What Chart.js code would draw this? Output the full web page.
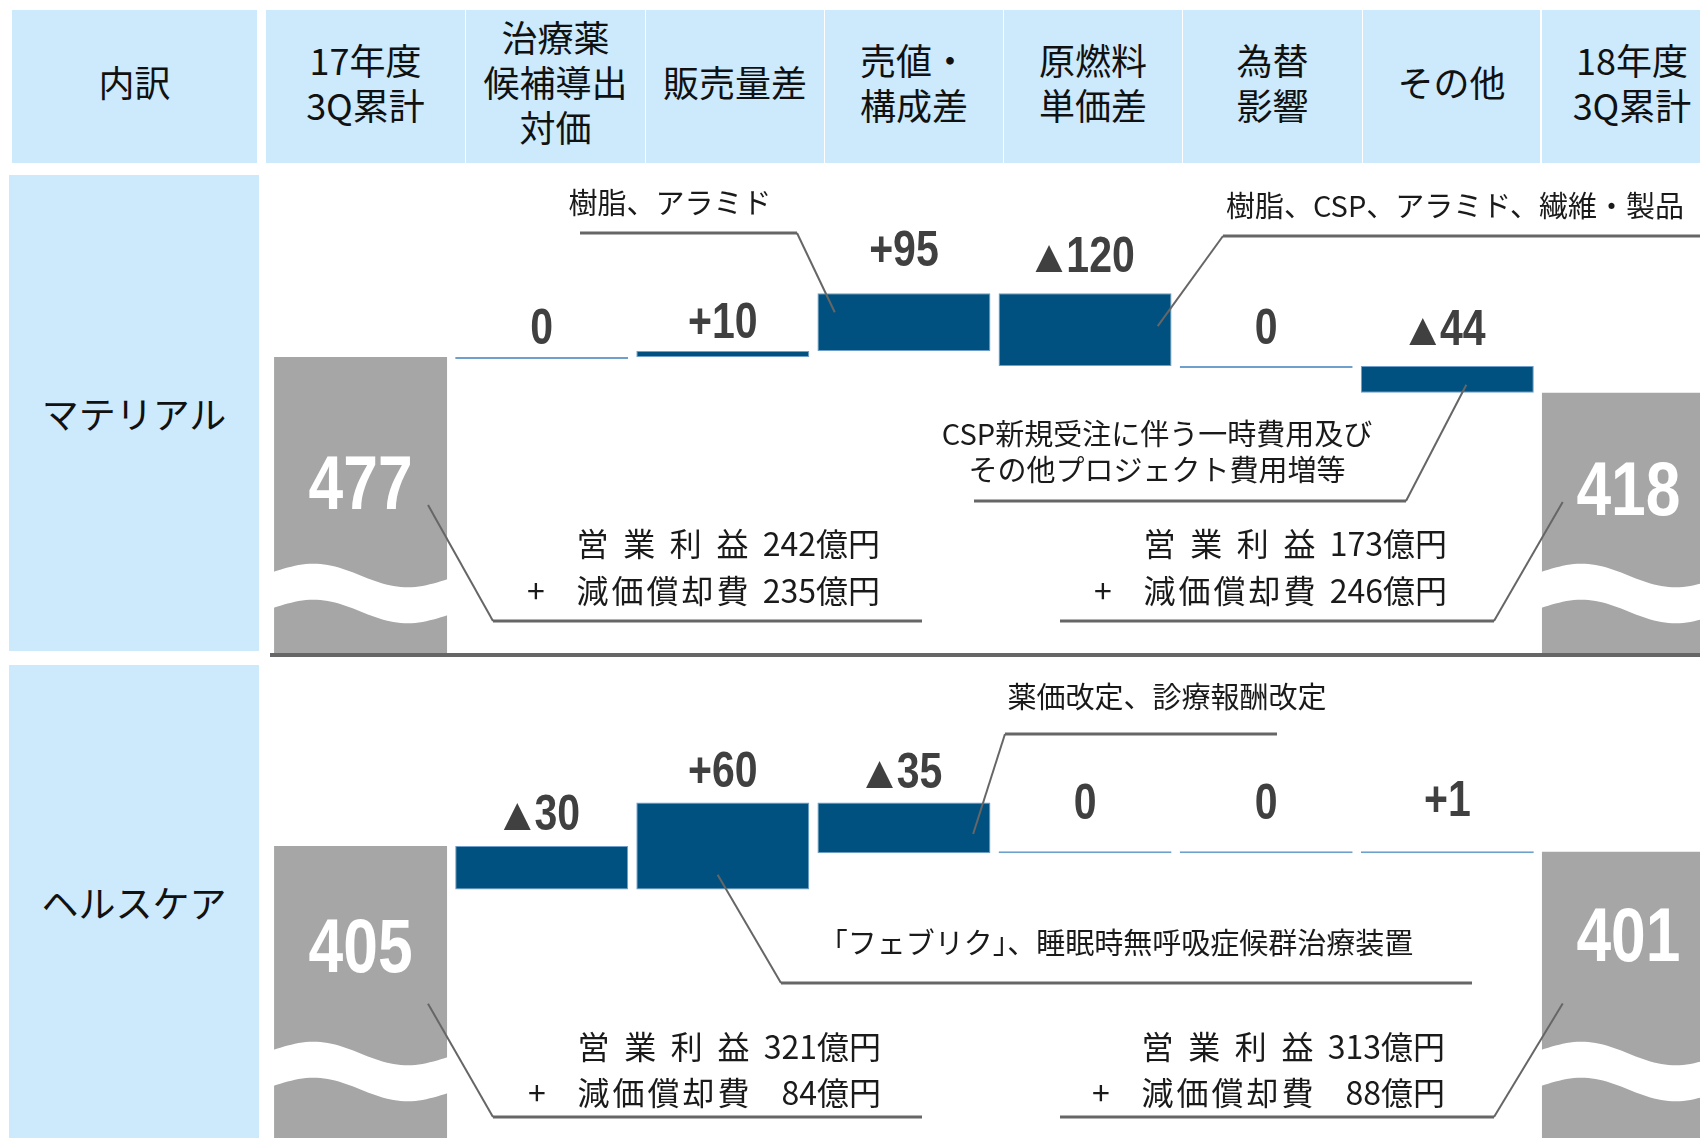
<!DOCTYPE html>
<html lang="ja">
<head>
<meta charset="utf-8">
<title>営業利益＋減価償却費 増減要因</title>
<script src="https://cdn.jsdelivr.net/npm/chart.js@4.4.1/dist/chart.umd.min.js"></script>
<style>
  html, body { margin: 0; padding: 0; background: #fff; }
  body {
    width: 1700px; height: 1138px; overflow: hidden; position: relative;
    font-family: 'Noto Sans CJK JP', 'Noto Sans', sans-serif; color: #111;
  }
  .cell {
    position: absolute; background: #cceafc;
    display: flex; align-items: center; justify-content: center; text-align: center;
    box-sizing: border-box;
  }
  .head { top: 10px; height: 153px; font-size: 36px; line-height: 45px; padding-bottom: 10px; }
  .side { left: 9px; width: 250px; font-size: 37px; }
  canvas { position: absolute; }
  #sep { position: absolute; left: 270px; top: 653px; width: 1430px; height: 4px; background: #666; }
</style>
</head>
<body>
<div id="cells"></div>
<canvas id="matChart" width="1449" height="490" style="left:270px;top:163px;width:1449px;height:490px;"></canvas>
<div id="sep"></div>
<canvas id="hcChart" width="1449" height="480" style="left:270px;top:658px;width:1449px;height:480px;"></canvas>

<script>
// 見出し
const headerLines = [['内訳'], ['17年度', '3Q累計'], ['治療薬', '候補導出', '対価'], ['販売量差'],
  ['売値・', '構成差'], ['原燃料', '単価差'], ['為替', '影響'], ['その他'], ['18年度', '3Q累計']];
const segments = ['マテリアル', 'ヘルスケア'];
const categories = ['17年度3Q累計', '治療薬候補導出対価', '販売量差', '売値・構成差', '原燃料単価差', '為替影響', 'その他', '18年度3Q累計'];

// マテリアル（億円）
const matStart = 477;
const matDeltas = [0, 10, 95, -120, 0, -44];
const matEnd = 418;
const matOperating = [242, 173];
const matDepreciation = [235, 246];

// ヘルスケア（億円）
const hcStart = 405;
const hcDeltas = [-30, 60, -35, 0, 0, 1];
const hcEnd = 401;
const hcOperating = [321, 313];
const hcDepreciation = [84, 88];

// ---- table cells (html) ----
const headEdges = [[12, 257], [266, 465], [466, 645], [646, 824], [825, 1003], [1004, 1182], [1183, 1362], [1363, 1540], [1542, 1722]];
const sideEdges = [[175, 651], [665, 1138]];
const cellsDiv = document.getElementById('cells');
headerLines.forEach((lines, i) => {
  const d = document.createElement('div');
  d.className = 'cell head';
  d.style.left = headEdges[i][0] + 'px';
  d.style.width = (headEdges[i][1] - headEdges[i][0]) + 'px';
  d.innerHTML = lines.join('<br>');
  cellsDiv.appendChild(d);
});
segments.forEach((name, i) => {
  const d = document.createElement('div');
  d.className = 'cell side';
  d.style.top = sideEdges[i][0] + 'px';
  d.style.height = (sideEdges[i][1] - sideEdges[i][0]) + 'px';
  d.textContent = name;
  cellsDiv.appendChild(d);
});

// ---- helpers ----
function buildBars(start, deltas, end, axisMin) {
  const bars = [[axisMin, start]];
  let level = start;
  deltas.forEach(d => {
    bars.push([level, level + d]);
    level += d;
  });
  bars.push([axisMin, end]);
  return bars;
}

function fmt(d) {
  if (d > 0) return '+' + d;
  if (d < 0) return '▲' + (-d);
  return '0';
}

// Arial Narrow風に横方向を詰めて描く
function drawNumber(ctx, text, cx, baseline, size, color) {
  const narrow = 0.82;
  const tri = text.startsWith('▲');
  const digits = tri ? text.slice(1) : text;
  const triSize = Math.round(size * 0.92);
  const numFont = `bold ${size}px 'Liberation Sans', Arial, sans-serif`;
  const triFont = `${triSize}px 'Liberation Sans', 'DejaVu Sans', sans-serif`;
  ctx.save();
  ctx.fillStyle = color;
  ctx.textBaseline = 'alphabetic';
  ctx.textAlign = 'left';
  ctx.font = triFont;
  const tm = ctx.measureText('▲');
  const triW = tri ? tm.actualBoundingBoxLeft + tm.actualBoundingBoxRight + 3 : 0;
  ctx.font = numFont;
  const numW = ctx.measureText(digits).width * narrow;
  let x = cx - (triW + numW) / 2;
  if (tri) {
    ctx.font = triFont;
    ctx.fillText('▲', x + tm.actualBoundingBoxLeft, baseline);
    x += triW;
    ctx.font = numFont;
  }
  ctx.translate(x, baseline);
  ctx.scale(narrow, 1);
  ctx.fillText(digits, 0, 0);
  ctx.restore();
}

function drawProfit(ctx, R, y1, y2, op, dep) {
  ctx.save();
  ctx.font = "32px 'Noto Sans CJK JP', sans-serif";
  ctx.fillStyle = '#1a1a1a';
  ctx.textBaseline = 'middle';
  ctx.textAlign = 'right';
  ctx.fillText(op + '億円', R, y1);
  ctx.fillText(dep + '億円', R, y2);
  const pitch = 35;
  const labelLeft = R - 130 - 5 * pitch;
  ctx.textAlign = 'center';
  '減価償却費'.split('').forEach((c, i) => ctx.fillText(c, labelLeft + pitch * (i + 0.5), y2));
  const step = (4 * pitch) / 3;
  '営業利益'.split('').forEach((c, i) => ctx.fillText(c, labelLeft + pitch / 2 + step * i, y1));
  ctx.fillText('+', labelLeft - 39, y2);
  ctx.restore();
}

function makeDecor(cfg) {
  return {
    id: 'decor',
    afterDatasetsDraw(chart) {
      const ctx = chart.ctx;
      const data = chart.data.datasets[0].data;
      const bars = chart.getDatasetMeta(0).data;
      const last = bars.length - 1;

      // 累計バー：波線の省略記号と値
      [0, last].forEach((i, k) => {
        const el = bars[i];
        const x0 = el.x - el.width / 2 - 1, w = el.width + 2;
        ctx.save();
        ctx.beginPath();
        for (let s = 0; s <= 48; s++) {
          const t = s / 48;
          const y = cfg.waveY - 10 * Math.sin(2 * Math.PI * t) + 7 * t;
          if (s === 0) ctx.moveTo(x0 + t * w, y); else ctx.lineTo(x0 + t * w, y);
        }
        for (let s = 48; s >= 0; s--) {
          const t = s / 48;
          ctx.lineTo(x0 + t * w, cfg.waveY + 36 - 10 * Math.sin(2 * Math.PI * t) + 7 * t);
        }
        ctx.closePath();
        ctx.fillStyle = '#fff';
        ctx.fill();
        ctx.restore();
        drawNumber(ctx, String(data[i][1]), el.x, cfg.totalY[k] + 76 * 0.36, 76, '#fff');
      });

      // 増減値ラベル
      for (let i = 1; i < last; i++) {
        const el = bars[i];
        const top = Math.min(el.y, el.base);
        drawNumber(ctx, fmt(data[i][1] - data[i][0]), el.x, top - cfg.gaps[i - 1], 50, '#404040');
      }

      // 引き出し線と注記
      cfg.notes.forEach(n => {
        const el = bars[n.bar];
        const top = Math.min(el.y, el.base), bot = Math.max(el.y, el.base);
        const px = el.x - el.width / 2 + n.fx * el.width;
        const py = top + n.fy * (bot - top);
        const [rx1, rx2, ry] = n.rule;
        const ex = n.elbow === 'left' ? rx1 : rx2;
        ctx.save();
        ctx.strokeStyle = '#666';
        ctx.lineWidth = 3;
        ctx.beginPath();
        ctx.moveTo(rx1, ry);
        ctx.lineTo(rx2, ry);
        ctx.stroke();
        ctx.lineWidth = 2;
        ctx.beginPath();
        ctx.moveTo(ex, ry);
        ctx.lineTo(px, py);
        ctx.stroke();
        ctx.restore();

        if (n.profit !== undefined) {
          drawProfit(ctx, n.R, n.ty, n.ty + n.lh, cfg.operating[n.profit], cfg.depreciation[n.profit]);
        } else {
          ctx.save();
          ctx.font = "29px 'Noto Sans CJK JP', sans-serif";
          ctx.fillStyle = '#1a1a1a';
          ctx.textAlign = 'center';
          ctx.textBaseline = 'middle';
          n.text.forEach((t, j) => ctx.fillText(t, n.tx, n.ty + j * (n.lh || 36)));
          ctx.restore();
        }
      });
    }
  };
}

function makeChart(id, start, deltas, end, yMin, yMax, cfg) {
  const n = deltas.length + 2;
  const fill = [], border = [], bw = [];
  for (let i = 0; i < n; i++) {
    const total = i === 0 || i === n - 1;
    fill.push(total ? '#a6a6a6' : '#00517f');
    border.push(total ? '#a6a6a6' : '#6f9fcb');
    bw.push(total ? 0 : 1);
  }
  return new Chart(document.getElementById(id), {
    type: 'bar',
    data: {
      labels: categories,
      datasets: [{
        data: buildBars(start, deltas, end, yMin),
        backgroundColor: fill,
        borderColor: border,
        borderWidth: bw,
        borderSkipped: false,
        minBarLength: 2,
        barPercentage: 0.955,
        categoryPercentage: 1
      }]
    },
    options: {
      responsive: false,
      animation: false,
      devicePixelRatio: 1,
      layout: { padding: 0 },
      plugins: { legend: { display: false }, tooltip: { enabled: false } },
      scales: {
        x: { display: false },
        y: { display: false, min: yMin, max: yMax }
      }
    },
    plugins: [makeDecor(cfg)]
  });
}

makeChart('matChart', matStart, matDeltas, matEnd, -10.6, 796.6, {
  waveY: 409,
  totalY: [319, 325],
  gaps: [13, 13, 27, 21, 22, 21],
  operating: matOperating,
  depreciation: matDepreciation,
  notes: [
    { bar: 3, fx: 0.10, fy: 0.33, rule: [310, 527, 70], elbow: 'right', text: ['樹脂、アラミド'], tx: 400, ty: 40 },
    { bar: 4, fx: 0.92, fy: 0.45, rule: [953, 1449, 73], elbow: 'left', text: ['樹脂、CSP、アラミド、繊維・製品'], tx: 1185, ty: 43 },
    { bar: 6, fx: 0.61, fy: 0.7, rule: [704, 1136, 338], elbow: 'right', text: ['CSP新規受注に伴う一時費用及び', 'その他プロジェクト費用増等'], tx: 887, ty: 271, lh: 36 },
    { bar: 0, fx: 0.89, fy: 0.5, rule: [223, 652, 458], elbow: 'left', profit: 0, R: 610, ty: 381, lh: 47 },
    { bar: 7, fx: 0.12, fy: 0.42, rule: [790, 1224, 458], elbow: 'right', profit: 1, R: 1177, ty: 381, lh: 47 }
  ]
});

makeChart('hcChart', hcStart, hcDeltas, hcEnd, 203.6, 534.7, {
  waveY: 392,
  totalY: [287, 276],
  gaps: [16, 16, 15, 32, 32, 35],
  operating: hcOperating,
  depreciation: hcDepreciation,
  notes: [
    { bar: 3, fx: 0.9, fy: 0.62, rule: [735, 1007, 76], elbow: 'left', text: ['薬価改定、診療報酬改定'], tx: 897, ty: 39 },
    { bar: 2, fx: 0.47, fy: 0.83, rule: [511, 1202, 325], elbow: 'left', text: ['「フェブリク」、睡眠時無呼吸症候群治療装置'], tx: 846, ty: 285 },
    { bar: 0, fx: 0.89, fy: 0.54, rule: [223, 652, 459], elbow: 'left', profit: 0, R: 611, ty: 389, lh: 46 },
    { bar: 7, fx: 0.12, fy: 0.53, rule: [790, 1224, 459], elbow: 'right', profit: 1, R: 1175, ty: 389, lh: 46 }
  ]
});
</script>
</body>
</html>
